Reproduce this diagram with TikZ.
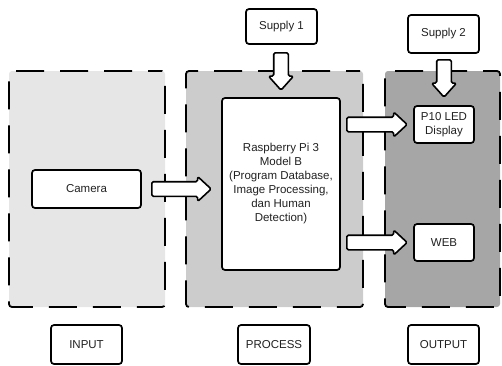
\documentclass[tikz,border=0pt]{standalone}
\usepackage{fontspec}
\setmainfont{Liberation Sans}
\usetikzlibrary{calc}
\definecolor{inbg}{HTML}{E6E6E6}
\definecolor{procbg}{HTML}{CCCCCC}
\definecolor{outbg}{HTML}{A6A6A6}
\definecolor{txt}{HTML}{222222}
\tikzset{
  panelfill/.style={rectangle, inner sep=0pt, draw=none},
  panelborder/.style={rectangle, inner sep=0pt, draw=black, line width=1.8pt, dash pattern=on 28pt off 16pt, dash phase=14pt, rounded corners=3pt, fill=none},
  box/.style={rectangle, draw=black, line width=1.7pt, rounded corners=3pt, fill=white, inner sep=1pt, align=center, text=txt, font=\fontsize{11.5}{14}\selectfont},
  barrow/.style={draw=black, fill=white, line width=1.6pt, rounded corners=1.5pt, line join=round},
}
\newcommand\harr[2]{\draw[barrow] let \p1=#1, \p2=#2 in
  (\x1,\y2+7.3pt) -- (\x2-13.5pt,\y2+7.3pt) -- (\x2-13.5pt,\y2+12.5pt) -- (\x2,\y2)
  -- (\x2-13.5pt,\y2-12.5pt) -- (\x2-13.5pt,\y2-7.3pt) -- (\x1,\y2-7.3pt) -- cycle;}
\newcommand\varr[2]{\draw[barrow] let \p1=#1, \p2=#2 in
  (\x2-7.3pt,\y1) -- (\x2-7.3pt,\y2+14pt) -- (\x2-12.5pt,\y2+14pt) -- (\x2,\y2)
  -- (\x2+12.5pt,\y2+14pt) -- (\x2+7.3pt,\y2+14pt) -- (\x2+7.3pt,\y1) -- cycle;}
\begin{document}
\begin{tikzpicture}[x=1pt,y=1pt]
\useasboundingbox (0,0) rectangle (502,365);
% panels (fill)
\node[panelfill, fill=inbg, rounded corners=3pt, minimum width=156pt, minimum height=236pt] (pin) at (87,176) {};
\node[panelfill, fill=procbg, rounded corners=3pt, minimum width=177pt, minimum height=236pt] (pproc) at (274.5,176) {};
\node[panelfill, fill=outbg, rounded corners=3pt, minimum width=115pt, minimum height=236pt] (pout) at (442.5,176) {};
% panel borders
\node[panelborder, minimum width=156pt, minimum height=236pt] at (pin.center) {};
\node[panelborder, minimum width=177pt, minimum height=236pt] at (pproc.center) {};
\node[panelborder, minimum width=115pt, minimum height=236pt] at (pout.center) {};
% boxes
\node[box, minimum width=109pt, minimum height=38pt] (cam) at (86.5,176) {Camera};
\node[box, minimum width=118pt, minimum height=172pt] (rpi) at (281,181) {Raspberry Pi 3\\Model B\\(Program Database,\\Image Processing,\\dan Human\\Detection)};
\node[box, minimum width=71pt, minimum height=35pt] (sup1) at (281.5,338.5) {Supply 1};
\node[box, minimum width=71pt, minimum height=38pt] (sup2) at (443.5,331) {Supply 2};
\node[box, minimum width=60pt, minimum height=37pt, inner sep=0pt] (p10) at (444,240.5) {P10 LED\\Display};
\node[box, minimum width=60pt, minimum height=37pt] (web) at (444,122.5) {WEB};
\node[box, minimum width=71pt, minimum height=39pt] (lin) at (86.5,20.5) {INPUT};
\node[box, minimum width=72pt, minimum height=39pt] (lproc) at (274,20.5) {PROCESS};
\node[box, minimum width=71pt, minimum height=39pt] (lout) at (443.5,20.5) {OUTPUT};
% block arrows
\harr{($(cam.east)+(10pt,0)$)}{($(rpi.west|-cam.east)+(-10pt,0)$)}
\harr{($(rpi.east)+(6pt,0)$)}{($(p10.west)+(-6pt,0)$)}
\harr{($(rpi.east)+(6pt,0)$)}{($(web.west)+(-6pt,0)$)}
\varr{($(sup1.south)+(0,-8pt)$)}{($(rpi.north)+(0,7pt)$)}
\varr{($(sup2.south)+(0,-6pt)$)}{($(p10.north)+(0,8pt)$)}
\end{tikzpicture}
\end{document}
